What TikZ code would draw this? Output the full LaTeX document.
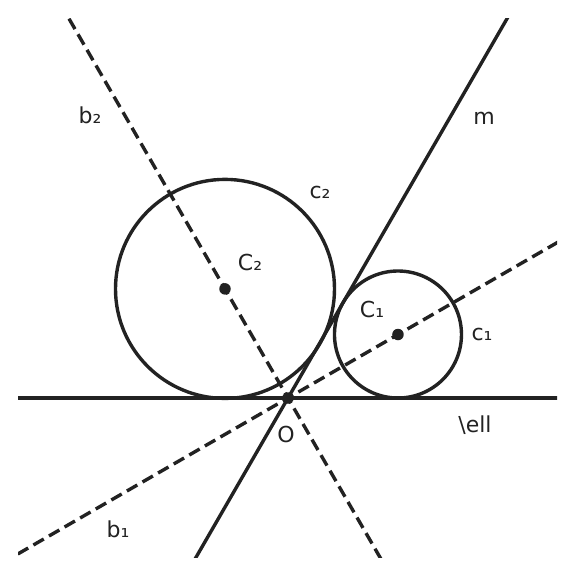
\documentclass[tikz,border=0pt]{standalone}
\usepackage{fontspec}
\setmainfont{DejaVu Sans}
\usetikzlibrary{calc}
\definecolor{ink}{HTML}{222222}

\begin{document}
\begin{tikzpicture}[x=1pt, y=-1pt,
  geo/.style={draw=ink, line width=3.4pt},
  bis/.style={geo, dash pattern=on 12pt off 6pt},
  lab/.style={font=\fontsize{22}{26}\selectfont, text=ink, anchor=base},
  ctr/.style={fill=ink, circle, inner sep=0pt, minimum size=11.5pt},
]
\useasboundingbox (0,0) rectangle (576,576);

% vertex and circle centres (y runs downwards, so angles are negated)
\coordinate (O) at (288,398);
\coordinate (C2) at ($(O)+(-120:126)$);
\coordinate (C1) at ($(O)+(-30:127)$);

\begin{scope}
\clip (18,18) rectangle (557,557);
% lines l and m
\draw[geo] (-100,398) -- (700,398);
\draw[geo] ($(O)+(-60:600)$) -- ($(O)+(-240:600)$);
% bisectors
\draw[bis] ($(O)+(-30:600)$) -- ($(O)+(-210:600)$);
\draw[bis] ($(O)+(-120:600)$) -- ($(O)+(-300:600)$);
\end{scope}

% circles c1, c2
\draw[geo] (C2) circle (109.5);
\draw[geo] (C1) circle (63.5);
\node[ctr] (c2dot) at (C2) {};
\node[ctr] (c1dot) at (C1) {};
\node[ctr] (odot) at (O) {};

% labels
\node[lab] (lb2) at (90,123) {b₂};
\node[lab] (lm) at (484,124) {m};
\node[lab] (lc2) at (320,198) {c₂};
\node[lab] (lC2) at (250,270) {C₂};
\node[lab] (lC1) at (372,317) {C₁};
\node[lab] (lc1) at (482,340) {c₁};
\node[lab] (lell) at (475,432) {\textbackslash ell};
\node[lab] (lO) at (286,442) {O};
\node[lab] (lb1) at (118,537) {b₁};

\end{tikzpicture}
\end{document}
